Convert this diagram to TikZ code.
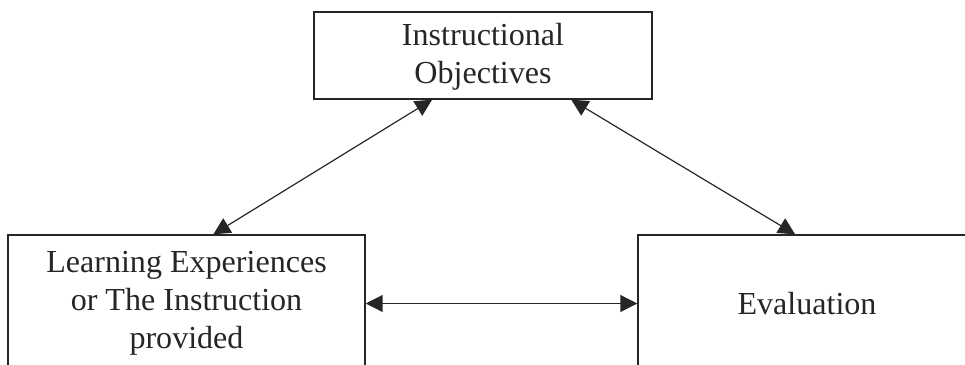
\documentclass[tikz,border=0pt]{standalone}
\usepackage{fontspec}
\setmainfont{Liberation Serif}
\usetikzlibrary{calc, arrows.meta, positioning}

\begin{document}
\begin{tikzpicture}[x=0.025cm, y=-0.025cm,
  stage/.style={draw=black!85, line width=0.035cm, align=center, text=black!85, font=\fontsize{22.8}{27}\selectfont, inner sep=0pt},
  link/.style={{Triangle[length=0.42cm, width=0.42cm]}-{Triangle[length=0.42cm, width=0.42cm]}, draw=black!85, line width=0.03cm}
  ]
  \useasboundingbox (0,0) rectangle (965,364);
  \clip (0,0) rectangle (965,364);

  \draw node[stage, minimum width=8.45cm, minimum height=2.175cm, text depth=0.1cm] (obj) at (483,55.5) {Instructional\\Objectives};
  \draw node[stage, minimum width=8.925cm, minimum height=3.425cm] (learn) at (186.5,303.5) {Learning Experiences\\or The Instruction\\provided};
  \draw node[stage, minimum width=8.45cm, minimum height=3.425cm] (eval) at (807,303.5) {Evaluation};

  \path ($(obj.south west)!0.35!(obj.south east)$) edge[link] ($(learn.north west)!0.575!(learn.north east)$)
  ($(obj.south west)!0.76!(obj.south east)$) edge[link] ($(eval.north west)!0.465!(eval.north east)$)
  (learn.east) edge[link] (eval.west);
\end{tikzpicture}
\end{document}
